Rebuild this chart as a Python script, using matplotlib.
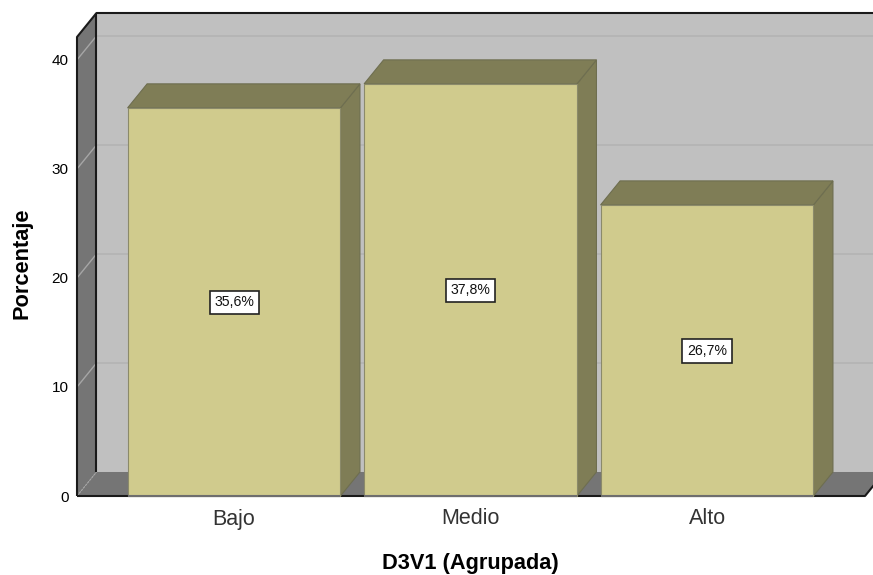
import numpy as np
import matplotlib
matplotlib.use("Agg")
import matplotlib.pyplot as plt
from matplotlib.patches import Polygon

plt.rcParams['font.family'] = ['Liberation Sans', 'DejaVu Sans']

categories = ['Bajo', 'Medio', 'Alto']
values = [35.6, 37.8, 26.7]
labels = ['35,6%', '37,8%', '26,7%']
yticks = [0, 10, 20, 30, 40]

bar_width = 0.9
x_lo, x_hi = -0.664, 2.668
y_lo, y_hi = 0, 42.1
depth_x = 19.5 / 236.5   # profundidad 3D en unidades de datos
depth_y = 24 / 10.9

fig = plt.figure(figsize=(8.73, 5.75), dpi=100)
ax = fig.add_axes([77 / 873, 79 / 575, 788 / 873, 459 / 575])
ax.set_xlim(x_lo, x_hi)
ax.set_ylim(y_lo, y_hi)
for s in ax.spines.values():
    s.set_visible(False)
ax.patch.set_visible(False)


def poly(pts, color, edge='none', lw=0.0, z=1):
    ax.add_patch(Polygon(pts, closed=True, facecolor=color, edgecolor=edge,
                         linewidth=lw, clip_on=False, zorder=z))


def line(xs, ys, color, lw=1.0, z=2, ls='-'):
    ax.plot(xs, ys, color=color, lw=lw, ls=ls, clip_on=False, zorder=z,
            solid_capstyle='butt')


back_l = x_lo + depth_x
back_r = x_hi + depth_x
back_b = y_lo + depth_y
back_t = y_hi + depth_y

# paredes
poly([(back_l, back_b), (back_r, back_b), (back_r, back_t), (back_l, back_t)], '#c0c0c0')
poly([(x_lo, y_lo), (back_l, back_b), (back_l, back_t), (x_lo, y_hi)], '#757575')
poly([(x_lo, y_lo), (x_hi, y_lo), (back_r, back_b), (back_l, back_b)], '#757575')

# rejilla
for t in yticks[1:]:
    line([back_l, back_r], [t + depth_y, t + depth_y], '#b3b3b3', 1.2)
    line([x_lo, back_l], [t, t + depth_y], '#a6a6a6', 1.0)
line([x_lo, back_l], [0, depth_y], '#a6a6a6', 0.8, ls=(0, (2, 1)))

# bordes
line([x_lo, x_lo, back_l, back_r], [y_lo, y_hi, back_t, back_t], '#1a1a1a', 1.5, z=3)
line([back_l, back_l], [back_b, back_t], '#1a1a1a', 1.5, z=3)
line([x_lo, x_hi, back_r], [y_lo, y_lo, back_b], '#1a1a1a', 1.5, z=3)

# barras
for i, v in enumerate(values):
    l = i - bar_width / 2
    r = i + bar_width / 2
    ec = '#6e6e50'
    poly([(r, 0), (r + depth_x, depth_y), (r + depth_x, v + depth_y), (r, v)], '#7f7d56', ec, 0.8, z=4)
    poly([(l, v), (r, v), (r + depth_x, v + depth_y), (l + depth_x, v + depth_y)], '#7f7d56', ec, 0.8, z=4)
    poly([(l, 0), (r, 0), (r, v), (l, v)], '#d0cb8d', '#8b8a6a', 0.8, z=5)
    line([l, r], [0, 0], '#6e6e6e', 1.5, z=6)
    ax.text(i, v / 2 - 0.05, labels[i], ha='center', va='center', fontsize=10.2, color='#111111', zorder=7,
            bbox=dict(boxstyle='square,pad=0.32', facecolor='white', edgecolor='#222222', linewidth=1.2))

ax.set_xticks(np.arange(len(categories)))
ax.set_xticklabels(categories, fontsize=15.5, color='#333333')
ax.set_yticks(yticks)
ax.tick_params(axis='x', length=0, pad=9)
ax.tick_params(axis='y', length=0, pad=6, labelsize=11)
ax.set_xlabel('D3V1 (Agrupada)', fontsize=15.7, fontweight='bold', labelpad=0)
ax.xaxis.set_label_coords((470.5 - 77) / 788, -(563.5 - 496) / 459, transform=ax.transAxes)
ax.xaxis.label.set_va('center')
ax.set_ylabel('Porcentaje', fontsize=15.7, fontweight='bold')
ax.yaxis.set_label_coords((22 - 77) / 788, (496 - 263.5) / 459, transform=ax.transAxes)
ax.yaxis.label.set_va('center')

fig.savefig('out.png', dpi=100)
